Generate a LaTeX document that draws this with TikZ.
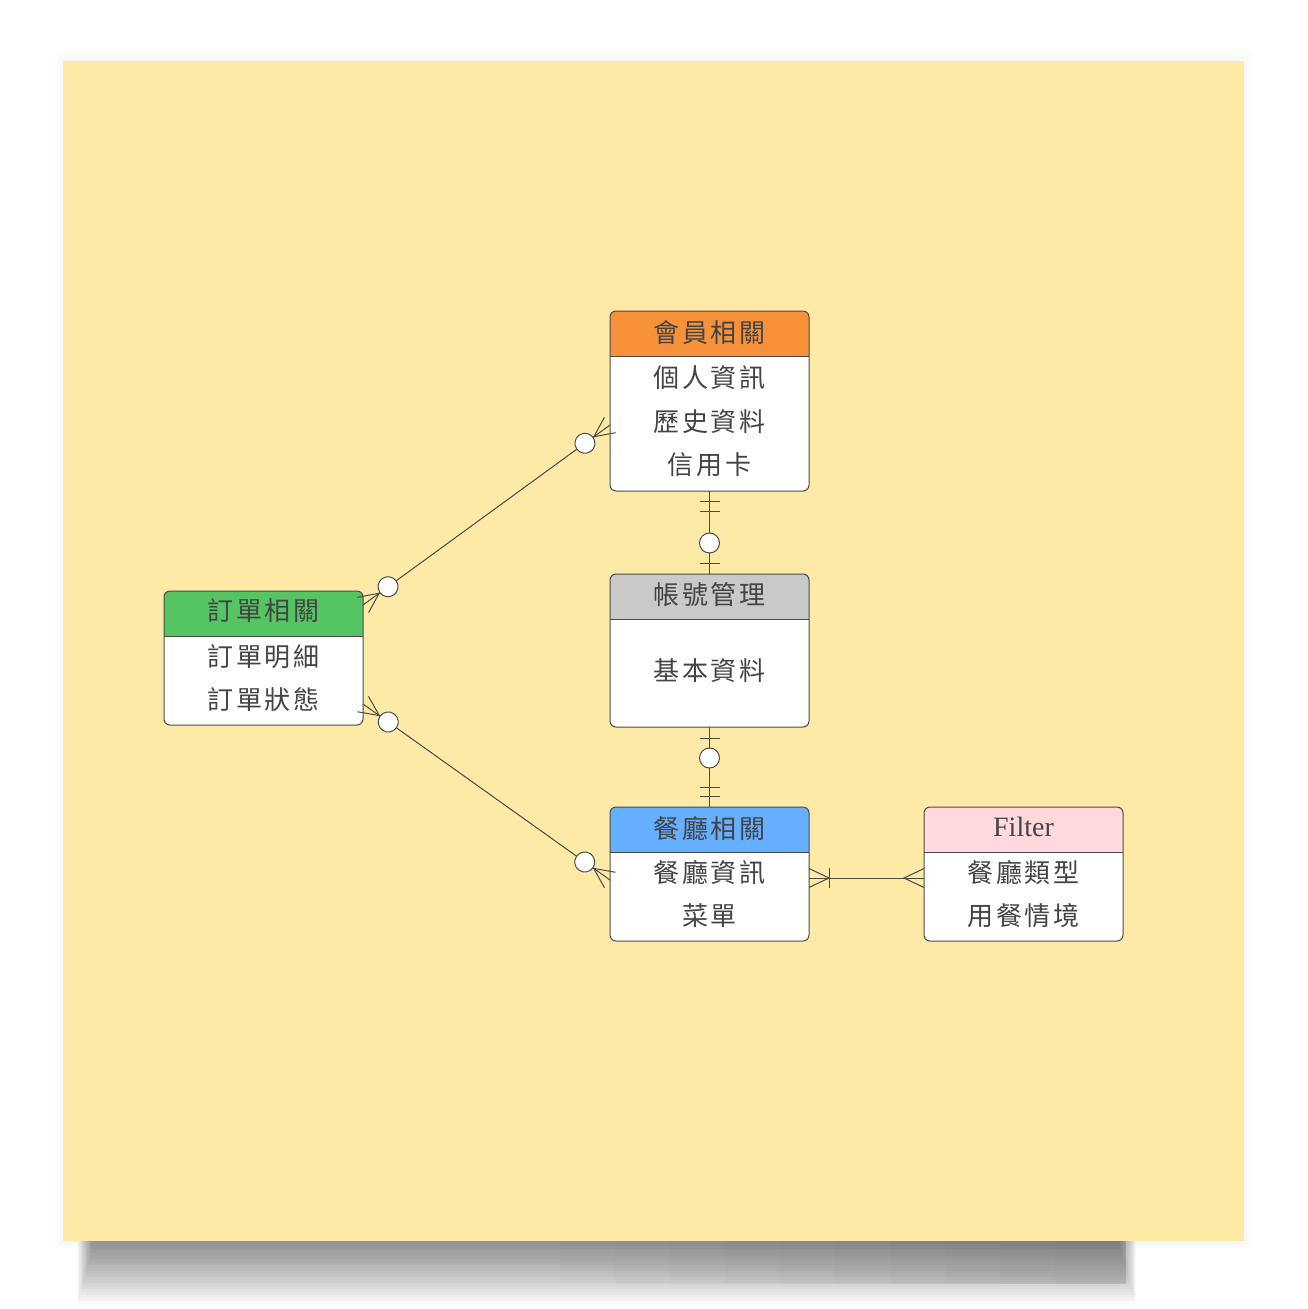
\documentclass[tikz,border=0pt]{standalone}
\usepackage{fontspec}
\setmainfont{Liberation Serif}
\newfontfamily\cjk[LetterSpace=10]{Noto Sans CJK TC}
\usetikzlibrary{calc,decorations.markings}

\definecolor{paper}{HTML}{FDEAA6}
\definecolor{linec}{HTML}{4A4A4A}
\definecolor{txt}{HTML}{444444}
\definecolor{hdorange}{HTML}{F7923A}
\definecolor{hdgray}{HTML}{C9C9C9}
\definecolor{hdblue}{HTML}{66AEFF}
\definecolor{hdpink}{HTML}{FFD9DC}
\definecolor{hdgreen}{HTML}{55C463}

\tikzset{
  ln/.style={draw=linec, line width=1pt},
  tbl/.style={fill=white, rounded corners=6pt, minimum width=199pt,
    inner sep=0pt, outer sep=0pt, anchor=north west},
  cell/.style={text=txt, font=\cjk\fontsize{26}{30}\selectfont, inner sep=0pt},
  latin/.style={text=txt, font=\fontsize{28}{32}\selectfont, inner sep=0pt},
  barmark/.style={postaction={decorate, decoration={markings,
    mark=at position #1 with {\draw[ln] (0,-10pt) -- (0,10pt);}}}},
  ringmark/.style={postaction={decorate, decoration={markings,
    mark=at position #1 with {\draw[ln, fill=white] (0,0) circle (10pt);}}}},
  crowstart/.style={postaction={decorate, decoration={markings,
    mark=at position 20pt with {\draw[ln] (-20pt,9.5pt) -- (0,0) -- (-20pt,-9.5pt);}}}},
  crowend/.style={postaction={decorate, decoration={markings,
    mark=at position -20pt with {\draw[ln] (20pt,9.5pt) -- (0,0) -- (20pt,-9.5pt);}}}},
}

% entity table: name, left, top, height, header colour
\newcommand\ertab[5]{%
  \node[tbl, minimum height=#4pt] (#1) at (#2,#3) {};
  \fill[#5, rounded corners=6pt] (#1.north west) rectangle ($(#1.north east)+(0,45)$);
  \fill[#5] ($(#1.north west)+(0,20)$) rectangle ($(#1.north east)+(0,45)$);
  \draw[ln] ($(#1.north west)+(0,45)$) -- ($(#1.north east)+(0,45)$);
  \draw[ln, rounded corners=6pt] (#1.north west) rectangle (#1.south east);
}

\begin{document}
\begin{tikzpicture}[x=1pt, y=-1pt]
\useasboundingbox[fill=white] (0,0) rectangle (1308,1309);

% soft shadow under the note: dense at the top edge, fading downwards
\foreach \i in {0,...,18}
  \fill[black, opacity=0.022] (92-0.8*\i,1236) rectangle (1120+0.9*\i,1250+3*\i);
% a little deeper towards the right-hand end
\foreach \i in {0,...,9}
  \fill[black, opacity=0.01] (560+55*\i,1236) rectangle (1126,1284);
\foreach \i in {0,2,...,8}
  \fill[black, opacity=0.006] (63-\i,61-\i) rectangle (1244+\i,1241+\i);

% note paper
\fill[paper] (63,61) rectangle (1244,1241);

% entities
\ertab{member}{610}{311}{180}{hdorange}
\node[cell] (member-t) at ($(member.north)+(0,22)$) {會員相關};
\node[cell] (member-a) at ($(member.north)+(0,67)$) {個人資訊};
\node[cell] (member-b) at ($(member.north)+(0,111)$) {歷史資料};
\node[cell] (member-c) at ($(member.north)+(0,154)$) {信用卡};

\ertab{account}{610}{574}{153}{hdgray}
\node[cell] (account-t) at ($(account.north)+(0,21)$) {帳號管理};
\node[cell] (account-a) at ($(account.north)+(0,97)$) {基本資料};

\ertab{rest}{610}{807}{134}{hdblue}
\node[cell] (rest-t) at ($(rest.north)+(0,22)$) {餐廳相關};
\node[cell] (rest-a) at ($(rest.north)+(0,66)$) {餐廳資訊};
\node[cell] (rest-b) at ($(rest.north)+(0,109)$) {菜單};

\ertab{filter}{924}{807}{134}{hdpink}
\node[latin] (filter-t) at ($(filter.north)+(0,20)$) {Filter};
\node[cell] (filter-a) at ($(filter.north)+(0,66)$) {餐廳類型};
\node[cell] (filter-b) at ($(filter.north)+(0,109)$) {用餐情境};

\ertab{order}{164}{591}{134}{hdgreen}
\node[cell] (order-t) at ($(order.north)+(0,20)$) {訂單相關};
\node[cell] (order-a) at ($(order.north)+(0,66)$) {訂單明細};
\node[cell] (order-b) at ($(order.north)+(0,109)$) {訂單狀態};

% relationships
\draw[ln, barmark=10pt, barmark=20pt, barmark=-11pt, ringmark=-31pt]
  (member.south) -- (account.north);
\draw[ln, barmark=11pt, ringmark=31pt, barmark=-20pt, barmark=-11pt]
  (account.south) -- (rest.north);
\draw[ln, crowstart, ringmark=31pt, crowend, ringmark=-31pt]
  ($(order.north east)+(0,14)$) -- ($(member.north west)+(0,114)$);
\draw[ln, crowstart, ringmark=31pt, crowend, ringmark=-31pt]
  ($(order.south east)+(0,-21)$) -- ($(rest.north west)+(0,73)$);
\draw[ln, crowstart, barmark=20pt, crowend]
  ($(rest.east)+(0,4)$) -- ($(filter.west)+(0,4)$);
\end{tikzpicture}
\end{document}
